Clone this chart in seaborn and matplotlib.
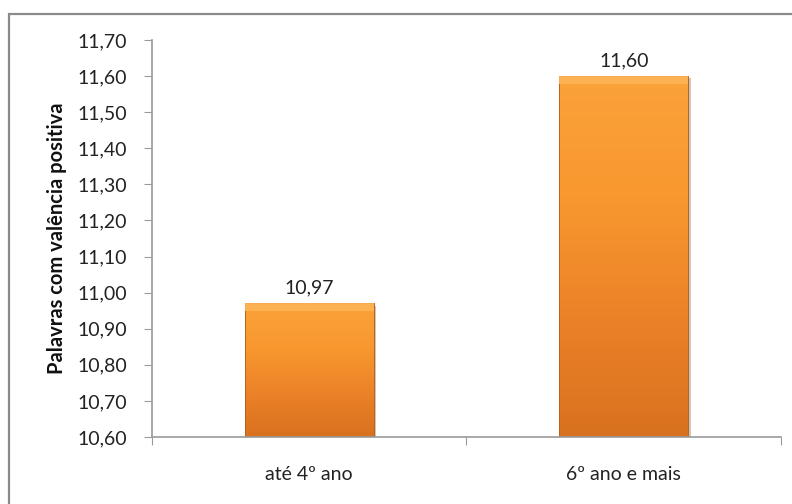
import numpy as np
import pandas as pd
import matplotlib
matplotlib.use("Agg")
import matplotlib.pyplot as plt
import seaborn as sns
from matplotlib.patches import Rectangle
from matplotlib.colors import LinearSegmentedColormap

# data
categorias = ["até 4º ano", "6º ano e mais"]
valores = [10.97, 11.60]
y_ticks = [10.6, 10.7, 10.8, 10.9, 11.0, 11.1, 11.2, 11.3, 11.4, 11.5, 11.6, 11.7]

df = pd.DataFrame({"grupo": categorias, "valor": valores})

sns.set_style("white")
plt.rcParams["font.family"] = ["Lato", "DejaVu Sans"]

fig = plt.figure(figsize=(7.92, 5.04), dpi=100)
ax = fig.add_axes([0.1919, 0.1329, 0.7942, 0.7877])

sns.barplot(data=df, x="grupo", y="valor", color="#F7962F", width=0.41,
            ax=ax, saturation=1, edgecolor="none")

ax.set_ylim(10.6, 11.7)
ax.set_xlim(-0.5, 1.5)

# excel-like gradient fill on each bar
cmap = LinearSegmentedColormap.from_list(
    "laranja", ["#D8711F", "#EC8228", "#F8982F", "#FBA23A"])
grad = np.linspace(0, 1, 256).reshape(-1, 1)
for bar in ax.patches:
    x0, w = bar.get_x(), bar.get_width()
    top = bar.get_y() + bar.get_height()
    # soft shadow
    ax.add_patch(Rectangle((x0 + 0.008, 10.6), w, top - 10.6 - 0.006,
                           facecolor="#6b4016", alpha=0.3, zorder=1.5, lw=0))
    im = ax.imshow(grad, cmap=cmap, aspect="auto", origin="lower",
                   extent=[x0, x0 + w, 10.6, top], zorder=2)
    im.set_clip_path(bar)
    bar.set_edgecolor("#B8621B")
    bar.set_linewidth(0.7)
    bar.set_zorder(2.5)
    bar.set_facecolor("none")
    # lighter bevel band at the top
    ax.add_patch(Rectangle((x0, top - 0.022), w, 0.022,
                           facecolor="#FDB457", lw=0, zorder=2.6, alpha=0.9))

ax.set_xlim(-0.5, 1.5)
ax.set_ylim(10.6, 11.7)

# value labels
for i, v in enumerate(valores):
    ax.text(i, v + 0.02, f"{v:.2f}".replace(".", ","), ha="center",
            va="bottom", fontsize=14, color="#222222")

ax.set_yticks(y_ticks)
ax.set_yticklabels([f"{t:.2f}".replace(".", ",") for t in y_ticks],
                   fontsize=14, color="#222222")

ax.set_xticks([-0.5, 0.5, 1.5])
ax.set_xticklabels([])
ax.set_xticks([0, 1], minor=True)
ax.set_xticklabels(categorias, minor=True, fontsize=14, color="#222222")
ax.tick_params(axis="x", which="major", length=6, direction="out",
               color="#9a9a9a", bottom=True)
ax.tick_params(axis="x", which="minor", length=0, pad=21)
ax.tick_params(axis="y", length=6, direction="out", color="#9a9a9a",
               left=True, pad=12)

for s in ["top", "right"]:
    ax.spines[s].set_visible(False)
for s in ["left", "bottom"]:
    ax.spines[s].set_color("#9a9a9a")
    ax.spines[s].set_linewidth(1.2)

ax.set_xlabel("")
ax.set_ylabel("Palavras com valência positiva", fontsize=14.5,
              fontweight="bold", color="#111111")
ax.yaxis.set_label_coords(-0.135, 0.5)

# outer chart border (right and bottom edges fall outside the image)
fig.patches.append(Rectangle((9 / 792, -0.05), 1.2, 1 - 14 / 504 + 0.05,
                             transform=fig.transFigure, fill=False,
                             edgecolor="#8a8a8a", lw=1.6))

fig.savefig("out.png", dpi=100)
